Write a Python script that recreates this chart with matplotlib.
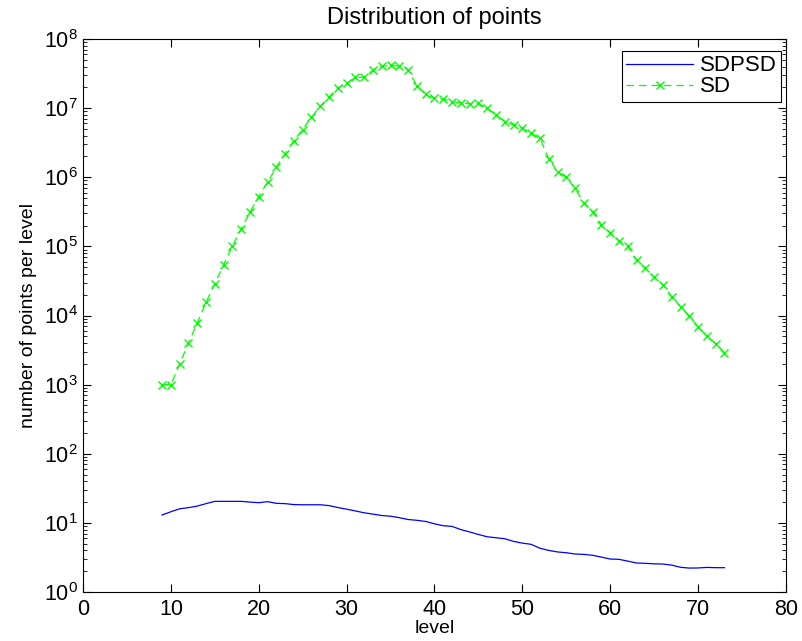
import numpy as np
import matplotlib
matplotlib.use("Agg")
import matplotlib.pyplot as plt
from matplotlib.ticker import FuncFormatter, NullFormatter

plt.rcParams['font.family'] = ['Liberation Sans', 'DejaVu Sans']
plt.rcParams['mathtext.fontset'] = 'custom'
plt.rcParams['mathtext.rm'] = 'Liberation Sans'

# levels 9..73
levels = list(range(9, 74))

sdpsd = [13.0, 14.5, 16, 16.6, 17.5, 19, 20.5, 20.5, 20.5, 20.5,
         20.0, 19.6, 20.3, 19.2, 19.0, 18.4, 18.3, 18.3, 18.3, 17.8,
         16.7, 15.8, 14.9, 14.0, 13.4, 12.8, 12.5, 11.9, 11.2, 10.9,
         10.5, 9.7, 9.1, 8.9, 8.0, 7.4, 6.8, 6.3, 6.1, 5.9,
         5.4, 5.1, 4.9, 4.3, 4.0, 3.8, 3.7, 3.55, 3.5, 3.4,
         3.2, 3.0, 2.97, 2.8, 2.63, 2.6, 2.56, 2.54, 2.45, 2.28,
         2.22, 2.23, 2.27, 2.25, 2.25]

sd = [1000, 1000, 2000, 4000, 7800, 15500, 29000, 54000, 102000, 178000,
      312000, 525000, 850000, 1.4e6, 2.2e6, 3.4e6, 4.9e6, 7.4e6, 1.07e7, 1.45e7,
      1.96e7, 2.28e7, 2.78e7, 2.8e7, 3.55e7, 4.05e7, 4.15e7, 4.05e7, 3.6e7, 2.1e7,
      1.58e7, 1.38e7, 1.36e7, 1.24e7, 1.2e7, 1.15e7, 1.17e7, 1.0e7, 8.0e6, 6.4e6,
      5.7e6, 5.1e6, 4.35e6, 3.65e6, 1.86e6, 1.2e6, 1.0e6, 6.9e5, 4.25e5, 3.15e5,
      2.05e5, 1.58e5, 1.21e5, 1.0e5, 6.3e4, 4.8e4, 3.6e4, 2.8e4, 1.86e4, 1.35e4,
      9.8e3, 6.9e3, 5.0e3, 3.9e3, 2.9e3]

fig = plt.figure(figsize=(8.02, 6.41), dpi=100)
ax = fig.add_axes([0.1035, 0.0764, 0.8765, 0.8627])

ax.semilogy(levels, sdpsd, '-', color='b', linewidth=0.9, label='SDPSD')
ax.semilogy(levels, sd, 'x', color=(0, 1, 0), linestyle=(0, (6, 4)), linewidth=0.9,
            markersize=5.5, markeredgewidth=1.0, label='SD')

ax.set_xlim(0, 80)
ax.set_ylim(1, 1e8)
ax.set_xticks(range(0, 81, 10))
ax.set_yticks([10.0 ** k for k in range(9)])
ax.set_yticks([m * 10.0 ** k for k in range(8) for m in range(2, 10)], minor=True)
ax.yaxis.set_minor_formatter(NullFormatter())
ax.yaxis.set_major_formatter(FuncFormatter(lambda v, p: r'$\mathregular{10^{%d}}$' % round(np.log10(v))))

ax.tick_params(which='both', direction='in', top=True, right=True, labelsize=15.5)
ax.tick_params(which='major', length=6, width=0.8)
ax.tick_params(axis='x', pad=5)
ax.tick_params(which='minor', length=3, width=0.6, labelleft=False, labelbottom=False)
for s in ax.spines.values():
    s.set_linewidth(0.8)

ax.set_title('Distribution of points', fontsize=17, pad=11)
ax.set_xlabel('level', fontsize=14, labelpad=0)
ax.set_ylabel('number of points per level', fontsize=14, labelpad=5)

leg = ax.legend(loc='upper right', bbox_to_anchor=(0.9929, 0.9783), borderaxespad=0,
                fontsize=16, fancybox=False, edgecolor='black', framealpha=1,
                borderpad=0.2, handlelength=3.0, handletextpad=0.3,
                labelspacing=0.0, numpoints=1)
leg.get_frame().set_linewidth(0.8)

fig.savefig('out.png', dpi=100)
